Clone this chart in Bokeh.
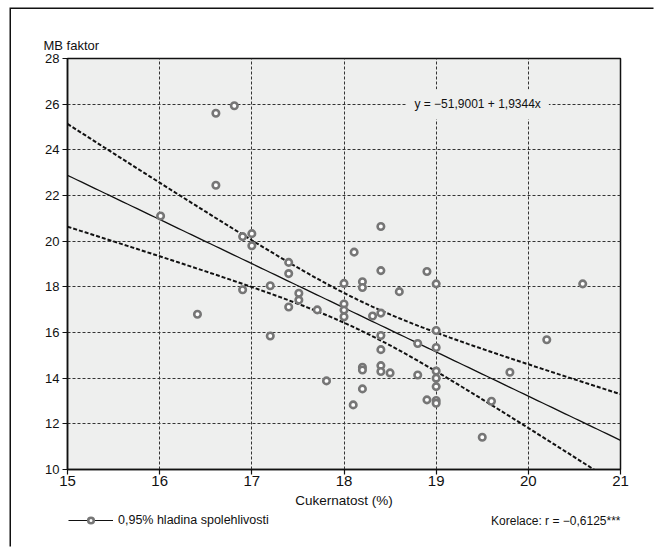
import numpy as np
from bokeh.plotting import figure
from bokeh.layouts import column
from bokeh.models import (Range1d, FixedTicker, Label, Legend, LegendItem, ColumnDataSource)
from bokeh.embed import file_html
from bokeh.resources import INLINE

# Sugar content (%) vs. MB factor, one point per sample
cukernatost = [16.01, 16.41, 16.61, 16.61, 16.81, 16.90, 16.90, 17.00, 17.00, 17.20,
               17.20, 17.40, 17.40, 17.40, 17.51, 17.51, 17.71, 17.81, 18.00, 18.00,
               18.00, 18.00, 18.11, 18.10, 18.20, 18.20, 18.20, 18.20, 18.20, 18.31,
               18.40, 18.40, 18.40, 18.40, 18.40, 18.40, 18.40, 18.50, 18.60, 18.80,
               18.80, 18.90, 18.90, 19.00, 19.00, 19.00, 19.00, 19.00, 19.00, 19.00,
               19.00, 19.50, 19.60, 19.80, 20.20, 20.59]
mb_faktor = [21.10, 16.80, 25.60, 22.45, 25.93, 20.20, 17.87, 20.33, 19.80, 18.05,
             15.85, 19.07, 18.58, 17.12, 17.72, 17.42, 16.99, 13.88, 18.15, 17.25,
             16.98, 16.69, 19.52, 12.83, 18.22, 17.97, 14.48, 14.36, 13.53, 16.72,
             20.64, 18.71, 16.85, 15.87, 15.25, 14.55, 14.29, 14.23, 17.79, 15.52,
             14.14, 18.67, 13.05, 18.13, 16.09, 15.34, 14.31, 14.00, 13.63, 13.02,
             12.90, 11.41, 12.99, 14.26, 15.68, 18.13]

# fitted line drawn on the chart
intercept = 51.9001
slope = -1.9344
t_975 = 2.005          # Student t, 0.975 quantile, n-2 degrees of freedom

x_ticks = [15, 16, 17, 18, 19, 20, 21]
y_ticks = [10, 12, 14, 16, 18, 20, 22, 24, 26, 28]

rovnice_text = "y = \u221251,9001 + 1,9344x"
korelace_text = "Korelace: r = \u22120,6125***"
legenda_text = "0,95% hladina spolehlivosti"

FONT = "Liberation Sans"
INK = "#111111"
PLOT_BG = "#eeefee"
RING = "#767676"

x = np.array(cukernatost)
y = np.array(mb_faktor)
n = len(x)
xbar = x.mean()
sxx = ((x - xbar) ** 2).sum()
b_ls = ((x - xbar) * (y - y.mean())).sum() / sxx
a_ls = y.mean() - b_ls * xbar
s = np.sqrt(((y - (a_ls + b_ls * x)) ** 2).sum() / (n - 2))

xs = np.linspace(15, 21, 121)
fit = intercept + slope * xs
half = t_975 * s * np.sqrt(1.0 / n + (xs - xbar) ** 2 / sxx)

W = 644
p = figure(width=W, height=503, output_backend="svg", toolbar_location=None,
           x_range=Range1d(15, 21), y_range=Range1d(10, 28),
           min_border_left=56, min_border_top=49, min_border_right=35, min_border_bottom=43)
p.background_fill_color = PLOT_BG
p.border_fill_color = "white"
p.outline_line_color = INK
p.outline_line_width = 1.5

# y-axis caption sits in the title slot, shifted left over the tick labels
p.title.text = "MB faktor"
p.title.align = "left"
p.title.offset = -24
p.title.standoff = 12
p.title.text_font = FONT
p.title.text_font_size = "13px"
p.title.text_font_style = "normal"
p.title.text_color = INK

for g in (p.xgrid[0], p.ygrid[0]):
    g.grid_line_color = "#333333"
    g.grid_line_dash = "3 2"
    g.grid_line_width = 1
p.xgrid.ticker = FixedTicker(ticks=x_ticks)
p.ygrid.ticker = FixedTicker(ticks=y_ticks)

p.xaxis.ticker = FixedTicker(ticks=x_ticks)
p.yaxis.ticker = FixedTicker(ticks=y_ticks)
for ax in (p.xaxis[0], p.yaxis[0]):
    ax.axis_line_color = INK
    ax.axis_line_width = 1.5
    ax.major_tick_line_color = INK
    ax.major_tick_line_width = 1.2
    ax.major_tick_out = 5
    ax.major_tick_in = 0
    ax.minor_tick_line_color = None
    ax.major_label_text_font = FONT
    ax.major_label_text_color = INK
p.xaxis.major_label_text_font_size = "15px"
p.xaxis.major_label_standoff = 1
p.yaxis.major_label_text_font_size = "13px"
p.yaxis.major_label_standoff = 3
p.xaxis.axis_label = "Cukernatost (%)"
p.xaxis.axis_label_text_font = FONT
p.xaxis.axis_label_text_font_size = "13.5px"
p.xaxis.axis_label_text_font_style = "normal"
p.xaxis.axis_label_text_color = INK
p.xaxis.axis_label_standoff = 4

# regression line and its confidence band
p.line(xs, fit, line_color=INK, line_width=1.3)
p.line(xs, fit + half, line_color=INK, line_width=2, line_dash="4 2")
p.line(xs, fit - half, line_color=INK, line_width=2, line_dash="4 2")

src = ColumnDataSource(dict(x=cukernatost, y=mb_faktor))
p.scatter("x", "y", source=src, size=6.5, marker="circle",
          line_color=RING, line_width=2.6, fill_color="white")

p.add_layout(Label(x=19.45, y=26, text=rovnice_text, text_align="center",
                   text_baseline="middle", text_font=FONT, text_font_size="12px",
                   text_color=INK, background_fill_color=PLOT_BG, padding=8))

# legend strip under the chart (its frame lines up with the chart frame):
# band entry on the left, correlation note on the right
FRAME_W = 553
q = figure(width=W, height=36, output_backend="svg", toolbar_location=None,
           x_range=Range1d(0, FRAME_W), y_range=Range1d(0, 36),
           min_border_left=56, min_border_right=35, min_border_top=0, min_border_bottom=0)
q.axis.visible = False
q.grid.visible = False
q.outline_line_color = None
q.background_fill_color = "white"
q.border_fill_color = "white"

# sample renderers kept outside the visible strip; only their legend swatch shows
lr = q.line(x=[-100, -90], y=[-100, -100], line_color=INK, line_width=1.2)
sr = q.scatter(x=[-100], y=[-100], size=6.5, marker="circle", line_color=RING,
               line_width=2.6, fill_color="white")
legend = Legend(items=[LegendItem(label=legenda_text, renderers=[lr, sr])],
                location=(1, 21), orientation="horizontal",
                background_fill_alpha=0, border_line_color=None,
                padding=0, margin=0, glyph_width=45, glyph_height=14,
                label_standoff=5, label_text_font=FONT, label_height=14,
                label_text_font_size="12.5px", label_text_color=INK)
q.add_layout(legend)
q.add_layout(Label(x=FRAME_W, y=28, text=korelace_text, text_align="right",
                   text_baseline="middle", text_font=FONT, text_font_size="12px",
                   text_color=INK))

page = column(p, q, spacing=0,
              styles={"margin-left": "11px", "margin-top": "9px",
                      "box-shadow": "-1.5px -1.5px 0 0 #111"})

open("out.html", "w").write(file_html(page, INLINE))
